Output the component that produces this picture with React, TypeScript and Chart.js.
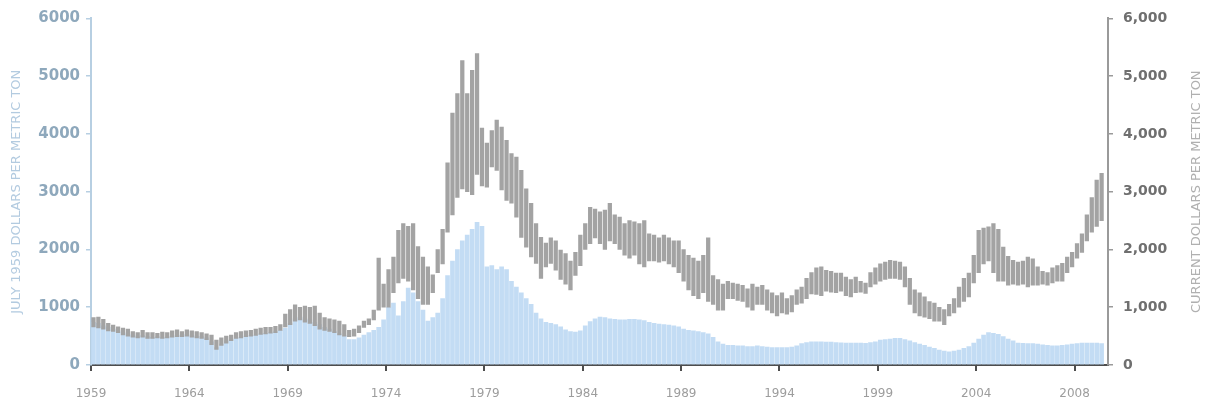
import React, { useEffect, useRef } from 'react';
import { Chart, registerables } from 'chart.js';

Chart.register(...registerables);

// Quarterly series starting 1959 Q1
const START_YEAR = 1959;

// July 1959 dollars per metric ton (left axis), quarterly
const REAL_1959 = [
  740, 720, 680, 650, // 1959
  620, 590, 560, 540, // 1960
  520, 500, 510, 490, // 1961
  480, 490, 480, 490, // 1962
  500, 520, 510, 530, // 1963
  510, 500, 490, 470, // 1964
  400, 300, 360, 420, // 1965
  440, 470, 480, 500, // 1966
  510, 520, 540, 550, // 1967
  560, 580, 600, 640, // 1968
  720, 800, 830, 800, // 1969
  780, 740, 700, 650, // 1970
  620, 580, 540, 510, // 1971
  440, 440, 470, 520, // 1972
  560, 600, 650, 780, // 1973
  1000, 1070, 850, 1100, // 1974
  1330, 1250, 1100, 950, // 1975
  760, 820, 900, 1150, // 1976
  1550, 1800, 2000, 2150, // 1977
  2250, 2350, 2470, 2400, // 1978
  1700, 1720, 1650, 1700, // 1979
  1650, 1450, 1350, 1250, // 1980
  1150, 1050, 900, 800, // 1981
  740, 720, 700, 660, // 1982
  610, 580, 570, 590, // 1983
  680, 750, 800, 830, // 1984
  820, 800, 790, 780, // 1985
  780, 790, 790, 780, // 1986
  770, 740, 720, 710, // 1987
  700, 690, 680, 660, // 1988
  620, 600, 590, 580, // 1989
  560, 540, 480, 400, // 1990
  360, 340, 340, 330, // 1991
  330, 320, 320, 330, // 1992
  320, 310, 300, 300, // 1993
  300, 300, 310, 330, // 1994
  370, 390, 400, 400, // 1995
  400, 395, 395, 390, // 1996
  385, 380, 378, 380, // 1997
  380, 375, 390, 400, // 1998
  430, 440, 450, 460, // 1999
  460, 440, 420, 390, // 2000
  360, 340, 310, 290, // 2001
  260, 240, 230, 240, // 2002
  260, 290, 320, 380, // 2003
  450, 520, 560, 550, // 2004
  530, 490, 450, 420, // 2005
  380, 375, 370, 370, // 2006
  360, 350, 340, 330, // 2007
  330, 340, 350, 360, // 2008
  370, 380, 380, 380, // 2009
  380, 370, // 2010
];

// Current dollars per metric ton (right axis): quarterly low of the range
const NOMINAL_LOW = [
  660, 640, 620, 590, // 1959
  580, 560, 520, 500, // 1960
  480, 470, 480, 460, // 1961
  460, 470, 460, 470, // 1962
  480, 490, 490, 500, // 1963
  480, 470, 460, 440, // 1964
  350, 270, 340, 380, // 1965
  420, 460, 470, 490, // 1966
  500, 510, 530, 540, // 1967
  550, 560, 600, 660, // 1968
  700, 760, 780, 740, // 1969
  720, 680, 620, 600, // 1970
  580, 560, 520, 500, // 1971
  490, 500, 560, 650, // 1972
  700, 780, 950, 1000, // 1973
  1000, 1250, 1420, 1500, // 1974
  1450, 1300, 1150, 1050, // 1975
  1050, 1250, 1600, 1750, // 1976
  2300, 2600, 2900, 3050, // 1977
  3000, 2950, 3300, 3100, // 1978
  3080, 3430, 3370, 3030, // 1979
  2850, 2800, 2560, 2210, // 1980
  2040, 1870, 1760, 1500, // 1981
  1700, 1760, 1640, 1480, // 1982
  1400, 1300, 1550, 1720, // 1983
  2000, 2100, 2200, 2100, // 1984
  2000, 2150, 2100, 2000, // 1985
  1900, 1850, 1900, 1750, // 1986
  1700, 1800, 1800, 1780, // 1987
  1800, 1750, 1700, 1600, // 1988
  1450, 1300, 1200, 1150, // 1989
  1250, 1100, 1050, 950, // 1990
  950, 1150, 1150, 1120, // 1991
  1100, 1000, 950, 1050, // 1992
  1050, 950, 900, 850, // 1993
  900, 880, 920, 1050, // 1994
  1070, 1150, 1230, 1220, // 1995
  1200, 1280, 1260, 1250, // 1996
  1280, 1200, 1180, 1250, // 1997
  1260, 1240, 1350, 1400, // 1998
  1450, 1480, 1500, 1500, // 1999
  1480, 1350, 1050, 900, // 2000
  850, 830, 800, 760, // 2001
  760, 700, 850, 900, // 2002
  1000, 1100, 1180, 1420, // 2003
  1600, 1750, 1800, 1600, // 2004
  1450, 1450, 1380, 1400, // 2005
  1380, 1400, 1350, 1380, // 2006
  1380, 1400, 1380, 1420, // 2007
  1450, 1450, 1600, 1700, // 2008
  1850, 1950, 2150, 2300, // 2009
  2400, 2500, // 2010
];

// Current dollars per metric ton (right axis): quarterly high of the range
const NOMINAL_HIGH = [
  820, 830, 790, 720, // 1959
  690, 660, 640, 620, // 1960
  580, 560, 600, 560, // 1961
  560, 550, 570, 560, // 1962
  590, 610, 580, 610, // 1963
  590, 580, 560, 540, // 1964
  520, 430, 470, 500, // 1965
  520, 560, 580, 590, // 1966
  600, 620, 640, 650, // 1967
  650, 670, 700, 880, // 1968
  960, 1040, 1000, 1020, // 1969
  1000, 1020, 900, 820, // 1970
  800, 780, 760, 700, // 1971
  600, 620, 680, 760, // 1972
  800, 950, 1850, 1400, // 1973
  1650, 1870, 2330, 2450, // 1974
  2400, 2450, 2050, 1870, // 1975
  1700, 1560, 2000, 2350, // 1976
  3500, 4360, 4700, 5270, // 1977
  4700, 5100, 5390, 4100, // 1978
  3840, 4060, 4240, 4120, // 1979
  3890, 3660, 3600, 3370, // 1980
  3050, 2800, 2450, 2210, // 1981
  2110, 2200, 2150, 1990, // 1982
  1930, 1800, 1950, 2250, // 1983
  2450, 2730, 2700, 2650, // 1984
  2680, 2800, 2600, 2560, // 1985
  2450, 2500, 2480, 2450, // 1986
  2500, 2270, 2250, 2200, // 1987
  2250, 2200, 2150, 2150, // 1988
  2000, 1900, 1850, 1800, // 1989
  1900, 2200, 1550, 1480, // 1990
  1400, 1450, 1420, 1400, // 1991
  1380, 1320, 1400, 1350, // 1992
  1380, 1300, 1250, 1200, // 1993
  1250, 1150, 1200, 1300, // 1994
  1350, 1500, 1600, 1680, // 1995
  1700, 1640, 1620, 1590, // 1996
  1590, 1520, 1480, 1520, // 1997
  1450, 1420, 1600, 1680, // 1998
  1750, 1780, 1810, 1800, // 1999
  1780, 1700, 1500, 1300, // 2000
  1250, 1180, 1100, 1070, // 2001
  1000, 960, 1050, 1150, // 2002
  1350, 1500, 1590, 1900, // 2003
  2330, 2370, 2390, 2450, // 2004
  2350, 2040, 1880, 1810, // 2005
  1780, 1800, 1870, 1840, // 2006
  1700, 1620, 1600, 1680, // 2007
  1720, 1760, 1870, 1950, // 2008
  2100, 2270, 2600, 2900, // 2009
  3200, 3320, // 2010
];

const X_TICK_YEARS = [1959, 1964, 1969, 1974, 1979, 1984, 1989, 1994, 1999, 2004, 2009];
const X_TICK_LABELS = ['1959', '1964', '1969', '1974', '1979', '1984', '1989', '1994', '1999', '2004', '2008'];
const X_MIN = 1959;
const X_MAX = 2010.7;
const Y_MIN = 0;
const Y_MAX = 6000;
const Y_STEP = 1000;

const LEFT_TITLE = 'JULY 1959 DOLLARS PER METRIC TON';
const RIGHT_TITLE = 'CURRENT DOLLARS PER METRIC TON';

const QUARTER_X = REAL_1959.map((_, i) => START_YEAR + (i + 0.5) / 4);

const FONT = "'DejaVu Sans', sans-serif";

const axisTitles = {
  id: 'axisTitles',
  afterDraw(chart: any) {
    const ctx = chart.ctx;
    const { top, bottom } = chart.chartArea;
    const cy = (top + bottom) / 2;
    const draw = (text: string, x: number, color: string) => {
      ctx.save();
      ctx.translate(x, cy);
      ctx.rotate(-Math.PI / 2);
      ctx.font = `13px ${FONT}`;
      ctx.fillStyle = color;
      ctx.textAlign = 'center';
      ctx.textBaseline = 'middle';
      ctx.fillText(text, 0, 0);
      ctx.restore();
    };
    draw(LEFT_TITLE, chart.scales.yLeft.left + 17, '#b3cbe0');
    draw(RIGHT_TITLE, chart.scales.yRight.right - 9, '#b0b0b0');
  },
};

export default function App() {
  const canvasRef = useRef<HTMLCanvasElement | null>(null);

  useEffect(() => {
    document.body.style.margin = '0';
    const canvas = canvasRef.current;
    if (!canvas) return;
    const chart = new Chart(canvas, {
      type: 'bar',
      data: {
        datasets: [
          {
            label: 'Current dollars per metric ton (range)',
            data: NOMINAL_LOW.map((lo, i) => ({ x: QUARTER_X[i], y: [lo, NOMINAL_HIGH[i]] })) as any,
            yAxisID: 'yRight',
            backgroundColor: '#a3a3a3',
            barThickness: 3.6,
            grouped: false,
            order: 0,
          } as any,
          {
            label: 'July 1959 dollars per metric ton',
            data: REAL_1959.map((v, i) => ({ x: QUARTER_X[i], y: v })) as any,
            yAxisID: 'yLeft',
            backgroundColor: 'rgba(192, 218, 243, 0.95)',
            barThickness: 4,
            grouped: false,
            order: 1,
          } as any,
        ],
      },
      options: {
        responsive: false,
        animation: false,
        events: [],
        layout: { padding: { top: 18, left: 0, right: 0, bottom: 0 } },
        plugins: {
          legend: { display: false },
          tooltip: { enabled: false },
        },
        scales: {
          x: {
            type: 'linear',
            offset: false,
            min: X_MIN,
            max: X_MAX,
            afterBuildTicks: (s: any) => {
              s.ticks = X_TICK_YEARS.map((v) => ({ value: v }));
            },
            afterFit: (s: any) => {
              s.height = 37;
            },
            ticks: {
              autoSkip: false,
              maxRotation: 0,
              padding: 16,
              color: '#9d9d9d',
              font: { family: FONT, size: 12 },
              callback: (v: any) => {
                const idx = X_TICK_YEARS.indexOf(Number(v));
                return idx >= 0 ? X_TICK_LABELS[idx] : '';
              },
            },
            grid: { drawOnChartArea: false, drawTicks: true, tickLength: 6, color: '#4d4d4d', lineWidth: 2, offset: false },
            border: { color: '#4d4d4d', width: 2 },
          },
          yLeft: {
            type: 'linear',
            position: 'left',
            min: Y_MIN,
            max: Y_MAX,
            afterFit: (s: any) => {
              s.width = 91;
            },
            ticks: {
              stepSize: Y_STEP,
              padding: 6,
              color: '#8ea8bc',
              font: { family: FONT, size: 15, weight: 'bold' },
              callback: (v: any) => String(v),
            },
            grid: { drawOnChartArea: false, drawTicks: true, tickLength: 5, color: '#b7cfe2', lineWidth: 1.5 },
            border: { color: '#b7cfe2', width: 2 },
          },
          yRight: {
            type: 'linear',
            position: 'right',
            min: Y_MIN,
            max: Y_MAX,
            afterFit: (s: any) => {
              s.width = 98;
            },
            ticks: {
              stepSize: Y_STEP,
              padding: 10,
              color: '#6f6f6f',
              font: { family: FONT, size: 14, weight: 'bold' },
              callback: (v: any) => Number(v).toLocaleString('en-US'),
            },
            grid: { drawOnChartArea: false, drawTicks: true, tickLength: 5, color: '#9a9a9a', lineWidth: 1.5 },
            border: { color: '#9a9a9a', width: 2 },
          },
        },
      } as any,
      plugins: [axisTitles],
    });
    return () => chart.destroy();
  }, []);

  return (
    <div style={{ width: 1206, height: 402, background: '#ffffff' }}>
      <canvas ref={canvasRef} width={1206} height={402} style={{ display: 'block', width: 1206, height: 402 }} />
    </div>
  );
}
